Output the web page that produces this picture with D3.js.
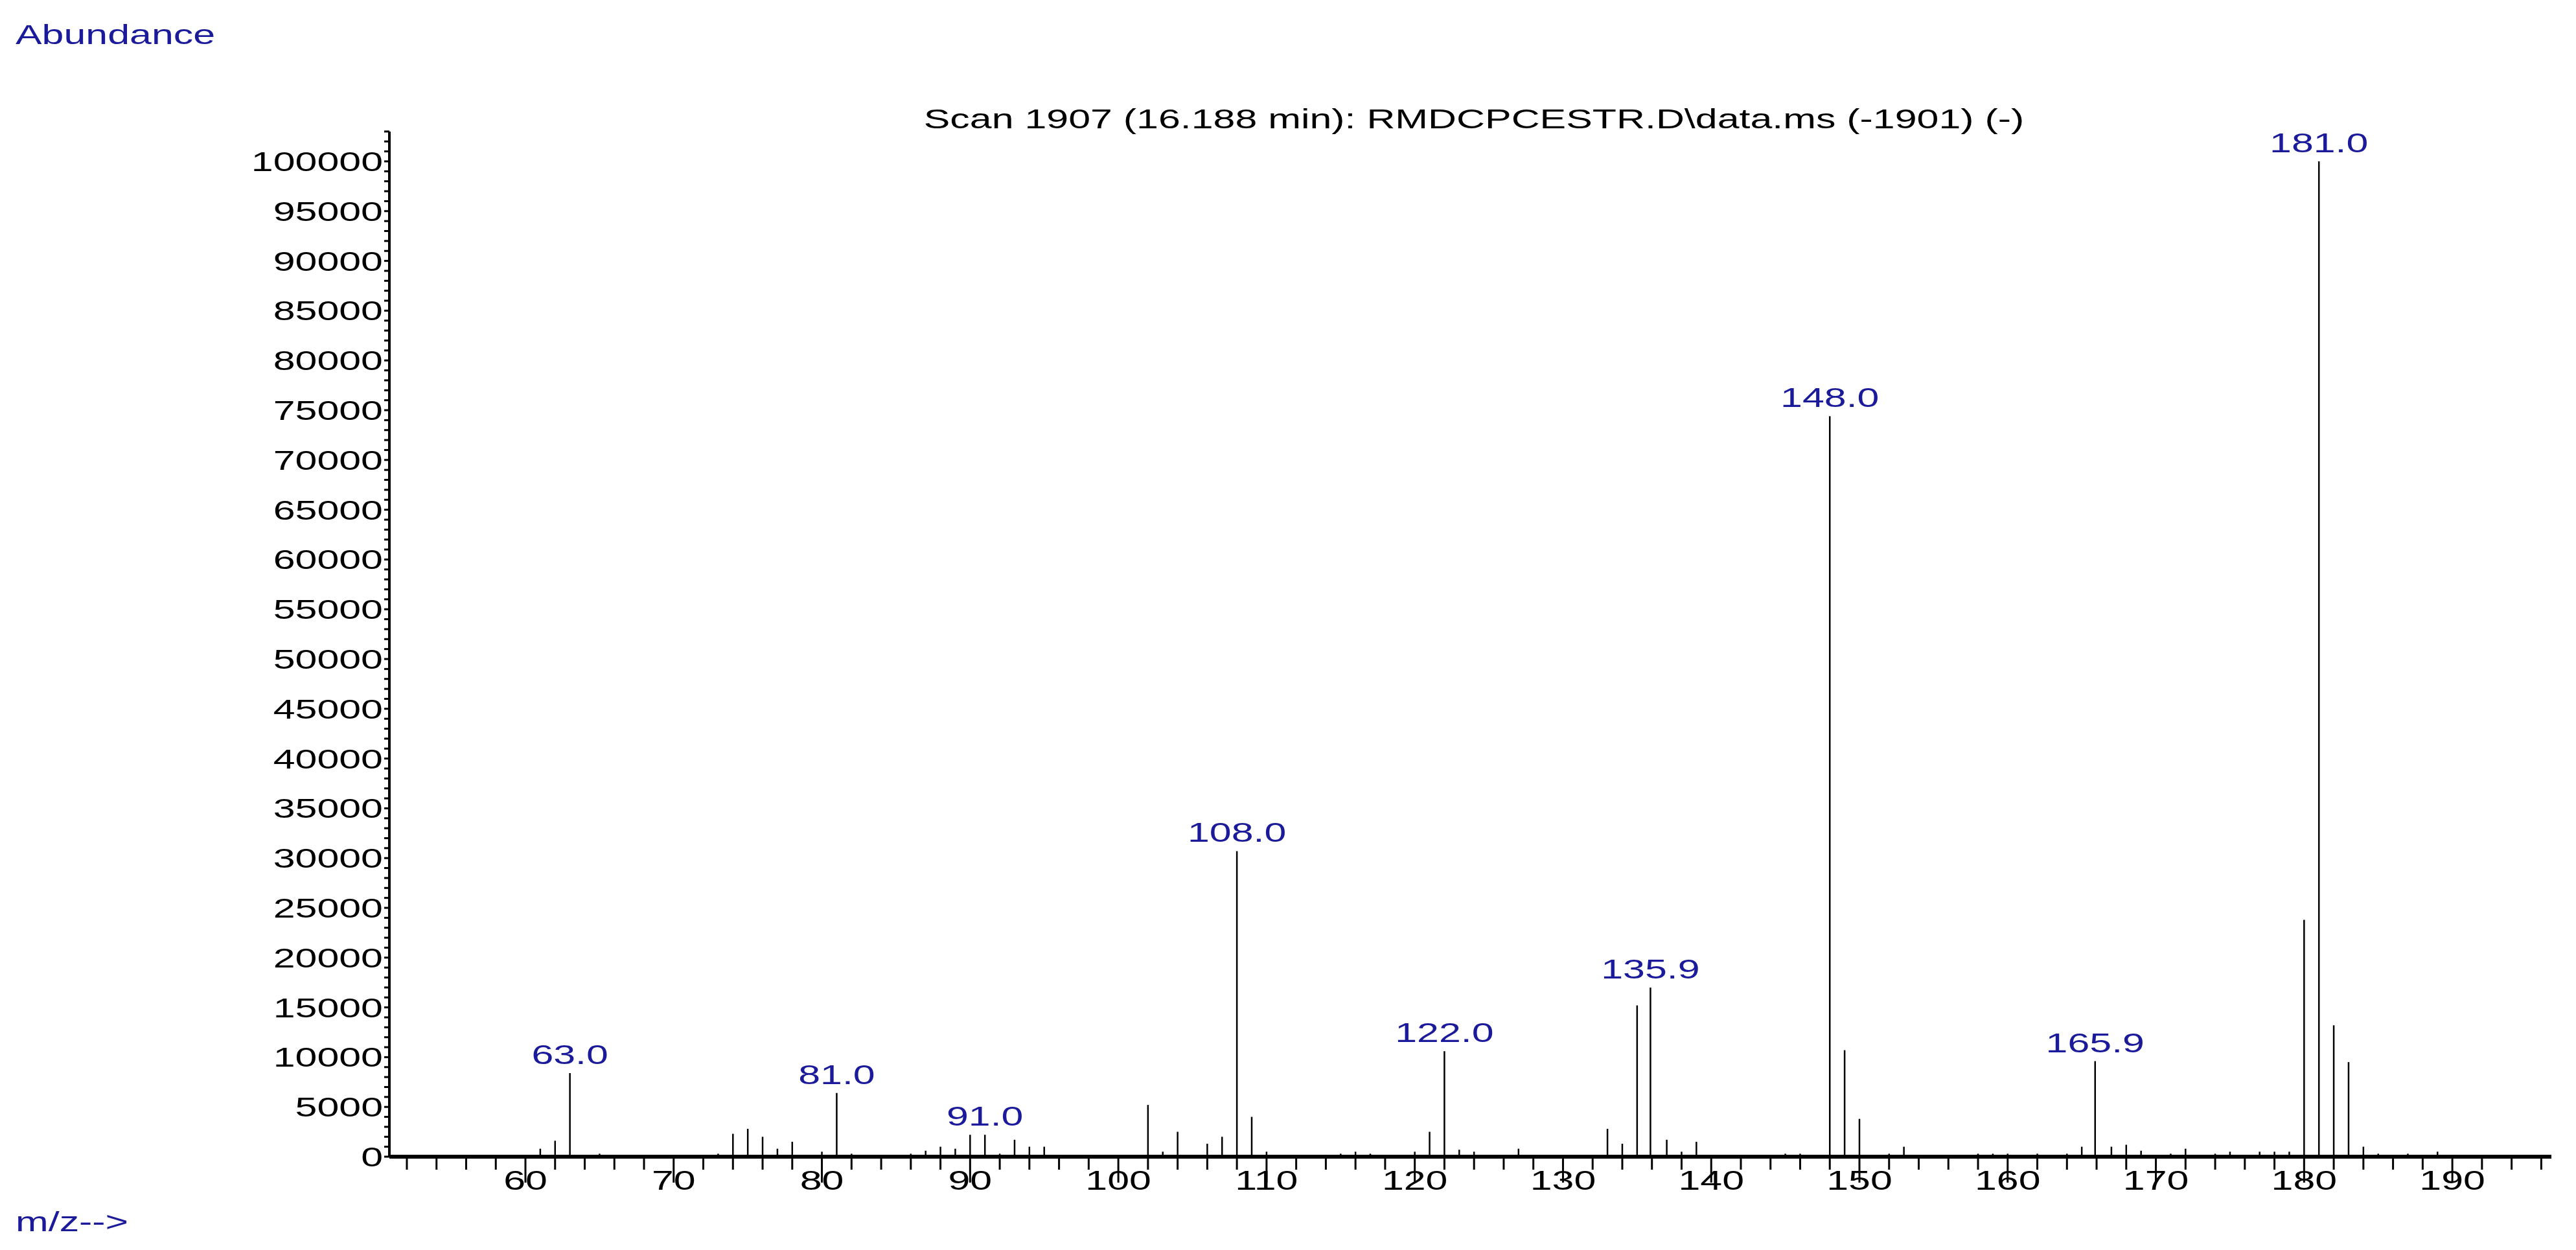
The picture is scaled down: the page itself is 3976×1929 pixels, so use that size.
<!DOCTYPE html>
<html><head><meta charset="utf-8">
<script src="https://cdn.jsdelivr.net/npm/d3@7"></script>
<style>body{margin:0;background:#fff}</style></head>
<body><svg id="c" width="3976" height="1929"></svg>
<script>
const mz = [61,62,63,65,73,74,75,76,77,78,80,81,82,86,87,88,89,90,91,92,93,94,95,102,103,104,106,107,108,109,110,114,115,116,117,120,121,122,123,124,127,133,134,135,135.9,137,138,139,145,146,148,149,150,152,153,158,159,160,162,164,165,165.9,167,168,169,171,172,174,175,177,178,179,180,181,182,183,184,185,187,189];
const abundance = [800,1600,8400,300,300,2300,2800,2000,800,1500,500,6400,300,300,600,1000,800,2200,2200,300,1700,1000,1000,5200,500,2500,1300,2000,30700,4000,500,200,300,500,300,500,2500,10600,700,500,800,2800,1300,15200,17000,1700,500,1500,300,300,74400,10700,3800,300,1000,300,300,300,300,300,1000,9600,1000,1200,600,300,800,300,500,500,500,500,23800,100000,13200,9500,1000,300,300,500];
const peakLabels = [[63,"63.0"],[81,"81.0"],[91,"91.0"],[108,"108.0"],[122,"122.0"],[135.9,"135.9"],[148,"148.0"],[165.9,"165.9"],[181,"181.0"]];
const yTicks = d3.range(0,100001,5000);
const xTicks = d3.range(60,191,10);
const title = "Scan 1907 (16.188 min): RMDCPCESTR.D\\data.ms (-1901) (-)";

const svg = d3.select("#c");
const SX = 1.45, FS = 42, FONT = "Liberation Sans, Arial, sans-serif";
const x = d3.scaleLinear().domain([60,150]).range([811,2870]);
const y = d3.scaleLinear().domain([0,100000]).range([1785,249]);
const x0 = 601, xEnd = 3938, yTop = 203;

function txt(px,py,s,anchor,color){
  svg.append("text").attr("transform",`translate(${px},${py}) scale(${SX},1)`)
    .attr("text-anchor",anchor).attr("font-family",FONT).attr("font-size",FS)
    .attr("fill",color).text(s);
}
svg.append("g").selectAll("line").data(mz.map((m,i)=>[m,abundance[i]])).join("line")
  .attr("x1",d=>x(d[0])).attr("x2",d=>x(d[0])).attr("y1",y(0)).attr("y2",d=>y(d[1]))
  .attr("stroke","#000").attr("stroke-width",2.5);
svg.append("line").attr("x1",x0).attr("x2",x0).attr("y1",yTop).attr("y2",y(0)).attr("stroke","#000").attr("stroke-width",4);
svg.append("line").attr("x1",x0).attr("x2",xEnd).attr("y1",y(0)).attr("y2",y(0)).attr("stroke","#000").attr("stroke-width",6);
d3.range(0,103001,1000).forEach(v=>{
  svg.append("line").attr("x1",x0-8).attr("x2",x0).attr("y1",y(v)).attr("y2",y(v)).attr("stroke","#000").attr("stroke-width",3);
});
yTicks.forEach(v=>txt(x0-10,y(v)+15,String(v),"end","#000"));
d3.range(52,198,2).filter(v=>x(v)<xEnd).forEach(v=>{
  const major = v%10===0;
  svg.append("line").attr("x1",x(v)).attr("x2",x(v)).attr("y1",y(0)).attr("y2",y(0)+(major?40:20)).attr("stroke","#000").attr("stroke-width",3);
});
xTicks.forEach(v=>txt(x(v),1836,String(v),"middle","#000"));
peakLabels.forEach(([m,s])=>{
  const a = abundance[mz.indexOf(m)];
  txt(x(m),y(a)-14,s,"middle","#1a1a9a");
});
txt(2275,198,title,"middle","#000");
txt(24,68,"Abundance","start","#1a1a9a");
txt(24,1900,"m/z-->","start","#1a1a9a");
</script></body></html>
